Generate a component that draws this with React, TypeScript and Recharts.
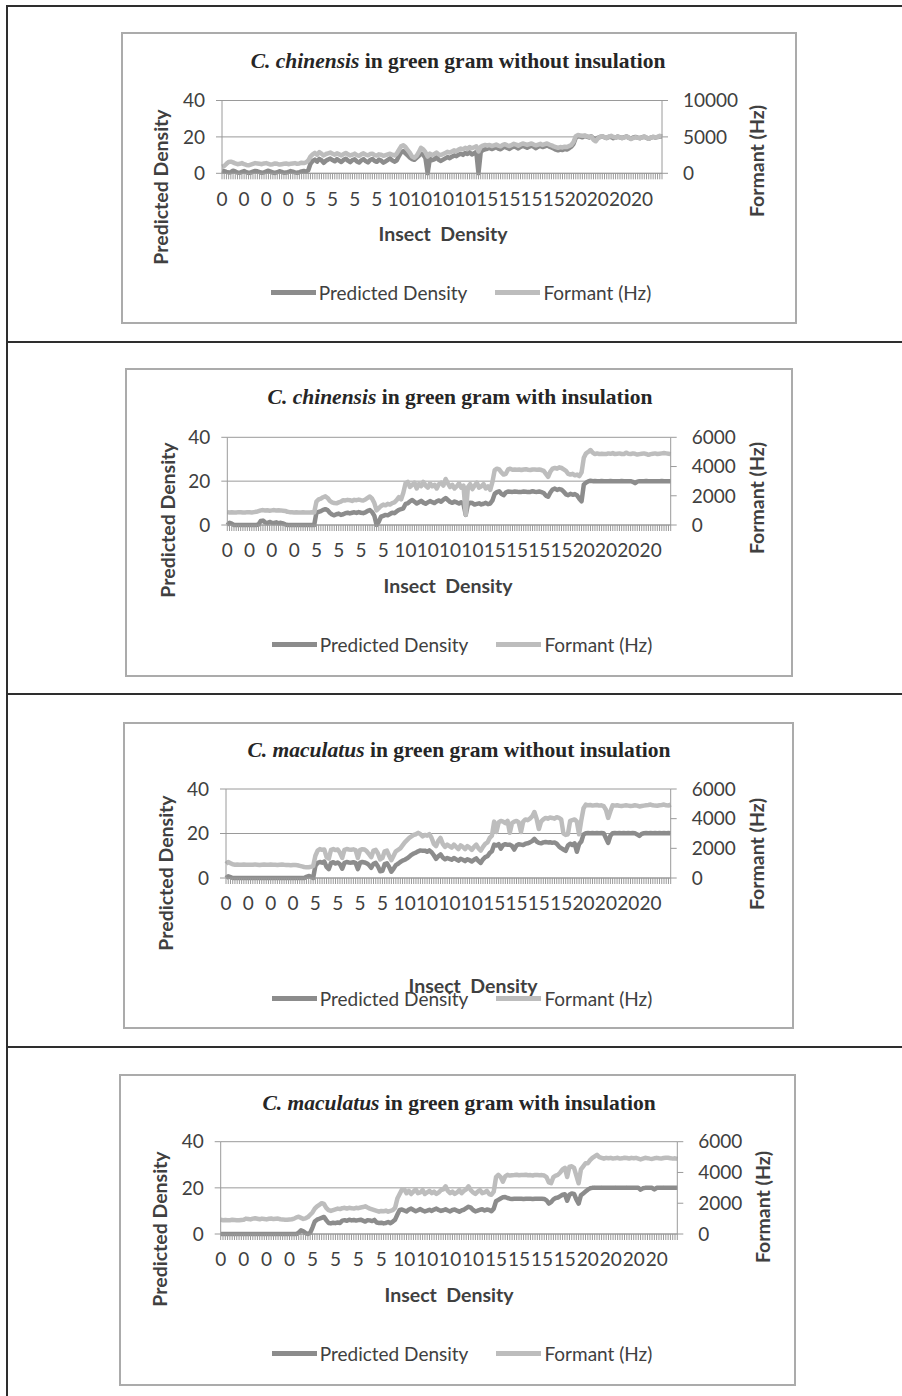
import React from 'react';
import { LineChart, Line, XAxis, YAxis, CartesianGrid, Legend } from 'recharts';

// x categories: 40 recordings for each true insect density
const DENSITY_LEVELS = [0, 5, 10, 15, 20];
const SAMPLES_PER_LEVEL = 40;
const insectDensity: number[] = DENSITY_LEVELS.flatMap((d) => Array(SAMPLES_PER_LEVEL).fill(d));

const densityTicks = [0, 20, 40];
const formantTicksWide = [0, 5000, 10000];
const formantTicks = [0, 2000, 4000, 6000];
const seriesOrder = ['Predicted Density', 'Formant (Hz)'];

// C. chinensis, without insulation
const predicted1 = [
  1.5, 1.2, 0.8, 0.5, 0.6, 1.4, 1.0, 0.4, 0.3, 0.8,
  1.2, 0.6, 0.2, 0.4, 0.9, 1.3, 1.1, 0.7, 0.3, 0.5,
  1.0, 1.4, 0.9, 0.4, 0.2, 0.6, 1.1, 0.8, 0.3, 0.4,
  0.7, 1.2, 0.9, 0.5, 0.3, 0.6, 1.0, 1.3, 0.9, 1.6,
  5.2, 6.8, 7.5, 6.4, 7.9, 7.2, 5.8, 6.9, 7.6, 8.1,
  7.3, 6.6, 7.8, 7.0, 6.2, 7.4, 8.0, 6.9, 6.1, 7.2,
  7.7, 6.5, 5.9, 7.1, 7.8, 6.7, 6.0, 7.3, 7.9, 6.8,
  6.3, 7.5, 7.0, 5.8, 6.6, 7.4, 8.2, 7.1, 6.4, 7.0,
  9.5, 11.5, 12.2, 11.0, 9.8, 8.6, 7.8, 7.4, 8.5, 9.6,
  10.8, 10.2, 8.4, 0, 8.0, 7.2, 7.6, 8.8, 7.4, 6.8,
  7.5, 8.2, 8.9, 8.3, 9.1, 9.8, 9.4, 10.2, 10.8, 10.1,
  11.2, 10.6, 11.5, 10.4, 11.0, 11.8, 0, 11.6, 12.8, 13.2,
  13.5, 14.0, 13.3, 13.8, 14.4, 13.6, 13.2, 14.1, 14.6, 13.9,
  13.4, 14.2, 14.8, 14.3, 13.7, 14.5, 15.1, 14.6, 14.0, 14.7,
  15.2, 14.5, 13.8, 14.6, 15.0, 14.4, 14.8, 15.3, 14.7, 14.2,
  13.6, 13.0, 12.6, 13.2, 12.8, 13.4, 13.1, 13.8, 14.6, 16.2,
  19.6, 20.4, 20.2, 19.8, 20.5, 20.1, 19.7, 20.3, 19.2, 18.8,
  19.5, 20.0, 20.3, 19.8, 19.4, 20.1, 19.9, 19.3, 19.6, 20.2,
  19.8, 19.4, 19.9, 20.2, 19.5, 19.1, 19.7, 20.0, 19.6, 19.3,
  19.8, 20.1, 19.5, 19.0, 19.6, 20.0, 19.7, 19.9, 20.3, 20.1,
];
const formant1 = [
  900, 1000, 1300, 1550, 1600, 1500, 1350, 1250, 1300, 1400,
  1250, 1150, 1100, 1200, 1300, 1400, 1350, 1300, 1250, 1350,
  1400, 1300, 1200, 1250, 1350, 1300, 1200, 1250, 1300, 1350,
  1250, 1300, 1350, 1400, 1300, 1350, 1450, 1400, 1500, 1750,
  2300, 2600, 2800, 2550, 2900, 2700, 2450, 2650, 2750, 2850,
  2700, 2550, 2750, 2600, 2450, 2650, 2800, 2600, 2450, 2550,
  2700, 2500, 2400, 2600, 2750, 2550, 2450, 2650, 2700, 2500,
  2450, 2600, 2550, 2400, 2500, 2600, 2700, 2550, 2450, 2700,
  3200, 3700, 3850, 3600, 3200, 2800, 2300, 2150, 2400, 2900,
  3500, 3300, 2900, 2300, 2700, 2500, 2650, 2850, 2600, 2500,
  2650, 2800, 2950, 2850, 3000, 3150, 3050, 3250, 3400, 3300,
  3500, 3350, 3600, 3450, 3550, 3700, 3000, 3650, 3800, 3900,
  3800, 3900, 3750, 3850, 3950, 3800, 3700, 3900, 4000, 3850,
  3750, 3900, 4050, 3950, 3800, 3950, 4100, 4000, 3900, 4000,
  4100, 3950, 3850, 3950, 4050, 3900, 4000, 4100, 3950, 3850,
  3700, 3600, 3500, 3600, 3550, 3650, 3600, 3750, 3900, 4300,
  5100, 5250, 5200, 5150, 5200, 5100, 5000, 5050, 4600, 4400,
  4800, 5000, 5100, 4950, 4850, 5050, 5150, 5000, 4900, 5050,
  4950, 4850, 4950, 5050, 4900, 4700, 4850, 4950, 4900, 4800,
  4950, 5050, 4900, 4750, 4900, 5000, 4950, 5000, 5150, 5050,
];

// C. chinensis, with insulation
const predicted2 = [
  0, 1.0, 0.6, 0, 0, 0, 0, 0, 0, 0,
  0, 0, 0, 0, 0.2, 1.8, 2.0, 1.2, 0.8, 1.4,
  1.0, 0.9, 1.2, 0.8, 1.0, 0.7, 0.3, 0, 0, 0,
  0, 0, 0, 0, 0, 0, 0, 0, 0, 0,
  5.6, 6.0, 6.3, 6.9, 7.2, 6.8, 5.6, 4.8, 4.4, 4.9,
  5.2, 4.6, 4.9, 5.4, 5.6, 5.3, 5.6, 5.8, 5.5, 5.9,
  5.6, 5.4, 5.8, 6.4, 6.8, 5.9, 4.2, 0, 1.5, 3.8,
  4.2, 4.6, 4.4, 5.0, 5.6, 5.4, 6.2, 6.9, 7.2, 7.6,
  9.6, 9.9, 10.8, 11.4, 10.6, 9.8, 10.4, 11.0, 10.2, 9.7,
  10.3, 10.9, 10.4, 10.0, 10.8, 11.2, 10.6, 11.6, 12.3, 11.4,
  10.5, 10.1, 10.7, 10.3, 9.8, 10.4, 9.6, 4.6, 9.4, 10.2,
  10.0, 9.3, 9.6, 9.9, 9.4, 9.7, 10.1, 9.5, 9.8, 11.2,
  14.2, 15.0, 15.4, 14.2, 13.6, 14.8, 15.3, 15.2, 15.1, 15.3,
  15.2, 15.0, 15.1, 15.3, 15.2, 15.0, 15.1, 15.4, 15.2, 15.1,
  15.3, 15.0, 14.6, 13.4, 12.9, 14.8, 16.2, 16.6, 16.0, 16.4,
  16.1, 15.2, 14.0, 13.6, 14.2, 13.8, 14.1, 13.5, 12.0, 10.8,
  18.4, 19.3, 19.9, 20.2, 20.0, 20.1, 20.0, 20.0, 20.1, 20.0,
  20.0, 20.0, 20.1, 20.0, 20.0, 20.0, 20.0, 20.1, 20.0, 20.0,
  20.0, 20.0, 19.7, 19.1, 19.8, 20.0, 20.0, 20.0, 20.1, 20.0,
  20.0, 20.0, 20.0, 20.0, 20.0, 20.1, 20.0, 20.0, 20.0, 20.0,
];
const formant2 = [
  880, 860, 870, 850, 860, 880, 870, 850, 860, 880,
  870, 860, 880, 900, 950, 1000, 1020, 990, 1010, 980,
  1000, 1020, 990, 1010, 1000, 980, 960, 900, 880, 870,
  860, 870, 850, 860, 870, 860, 850, 860, 870, 860,
  1600, 1750, 1800, 1900, 1960, 1850, 1650, 1550, 1500, 1480,
  1550, 1600, 1700, 1680, 1720, 1700, 1650, 1720, 1700, 1740,
  1700, 1680, 1750, 1850, 1950, 1800, 1500, 1000, 1150, 1300,
  1400, 1350, 1450, 1400, 1500, 1550, 1700, 1900, 1750, 2200,
  2850, 2950, 2600, 2750, 2900, 2500, 2800, 2650, 2950, 2700,
  2550, 2850, 2650, 2750, 2500, 2800, 2900, 2700, 3150, 2850,
  2600, 2750, 2500, 2650, 2850, 2550, 2700, 700, 2600, 2800,
  2450, 2700, 2900, 2550, 2650, 2800, 2500, 2650, 2400, 2950,
  3750, 3850, 3800, 3600, 3450, 3500, 3800, 3850, 3780, 3800,
  3780, 3800, 3760, 3800, 3820, 3780, 3760, 3800, 3790, 3780,
  3800, 3760, 3700, 3500, 3300, 3650, 3850, 3900, 3850, 3950,
  3900, 3800, 3700, 3500, 3450, 3500, 3400, 3450, 3350, 3600,
  4600, 4900, 5000, 5130, 4950, 4850, 4900, 4850, 4880, 4860,
  4850, 4900, 4870, 4920, 4850, 4880, 4900, 4860, 4850, 4950,
  4880, 4850, 4900, 4870, 4820, 4850, 4880, 4900, 4860, 4800,
  4850, 4880, 4900, 4860, 4880, 4900, 4920, 4900, 4880, 4850,
];

// C. maculatus, without insulation
const predicted3 = [
  0, 0.8, 0.4, 0, 0, 0, 0, 0, 0, 0,
  0, 0, 0, 0, 0, 0, 0, 0, 0, 0,
  0, 0, 0, 0, 0, 0, 0, 0, 0, 0,
  0, 0, 0, 0, 0, 0, 0.5, 0.9, 0.6, 0,
  5.5, 6.8, 7.2, 6.9, 7.4, 5.0, 4.0, 6.8, 7.1, 6.5,
  7.0, 6.2, 4.2, 6.8, 7.2, 7.0, 6.9, 7.1, 6.8, 4.0,
  6.9, 7.2, 7.0, 6.6, 5.8, 4.6, 6.4, 6.8, 5.2, 3.0,
  3.2, 6.2, 6.6, 5.0, 2.8, 4.2, 5.8, 6.4, 7.2, 7.8,
  8.2, 8.8, 9.6, 10.4, 11.0, 11.4, 12.0, 12.4, 12.2, 12.3,
  11.8, 12.4, 11.6, 10.2, 8.6, 9.8, 10.6, 9.2, 8.4, 9.0,
  8.6, 8.2, 9.0, 8.4, 7.8, 8.6, 8.2, 7.6, 8.4, 8.0,
  7.4, 8.2, 8.8, 7.6, 6.8, 8.4, 9.4, 9.8, 11.2, 12.0,
  15.0, 14.6, 15.2, 13.2, 14.8, 15.2, 14.9, 15.0, 14.4, 12.8,
  14.6, 15.2, 15.0, 14.8, 15.4, 15.6, 16.0, 16.6, 17.6, 16.4,
  15.8, 15.6, 16.0, 16.2, 16.0, 16.1, 15.8, 16.0, 15.4, 14.2,
  13.4, 12.8, 12.2, 14.6, 15.4, 14.8, 15.6, 11.8, 15.2, 16.4,
  19.6, 20.1, 20.2, 20.1, 20.2, 20.1, 20.2, 20.1, 20.2, 20.1,
  18.0, 15.8, 19.0, 20.1, 20.2, 20.1, 20.2, 20.1, 20.2, 20.1,
  20.2, 20.1, 20.2, 20.1, 19.6, 18.9, 19.8, 20.1, 20.2, 20.1,
  20.2, 20.1, 20.2, 20.1, 20.2, 20.1, 20.2, 20.1, 20.2, 20.1,
];
const formant3 = [
  950, 1080, 1000, 920, 900, 910, 900, 890, 910, 900,
  900, 890, 900, 910, 900, 880, 900, 910, 890, 900,
  910, 900, 890, 880, 900, 910, 890, 880, 870, 860,
  880, 870, 860, 820, 780, 740, 720, 730, 760, 800,
  1500, 1850, 1950, 1900, 1920, 1400, 1300, 1900, 1950, 1880,
  1920, 1700, 1350, 1900, 1950, 1920, 1900, 1930, 1880, 1350,
  1900, 1940, 1920, 1800, 1600, 1400, 1850, 1900, 1650, 1250,
  1350, 1800, 1850, 1500, 1200, 1500, 1800, 1900, 2000, 2200,
  2400, 2550, 2700, 2800, 2900, 2950, 3050, 2950, 2800, 2900,
  2850, 2950, 2700, 2300, 2150, 2500, 2700, 2300, 2100, 2250,
  2150, 2050, 2250, 2100, 1950, 2200, 2100, 1950, 2150, 2050,
  1900, 2100, 2250, 2000, 1850, 2100, 2300, 2400, 2700, 2850,
  3800, 3100, 3750, 3850, 3800, 3700, 3850, 3050, 3700, 3800,
  3850, 3750, 3100, 3800, 3950, 3900, 4000, 4150, 4450, 4000,
  3300, 3800, 3950, 4050, 4000, 4080, 4050, 4000, 4100, 4050,
  3950, 3000, 2900, 2950, 3850, 3900, 3950, 3800, 2950, 3900,
  4700, 4950, 4900, 4920, 4880, 4900, 4920, 4880, 4900, 4850,
  4600, 4050, 4500, 4900, 4880, 4900, 4870, 4850, 4880, 4900,
  4880, 4850, 4870, 4900, 4880, 4820, 4850, 4880, 4900, 4920,
  4950, 4900, 4880, 4870, 4900, 4920, 4950, 4900, 4880, 4950,
];

// C. maculatus, with insulation
const predicted4 = [
  0, 0, 0, 0, 0, 0, 0, 0, 0, 0,
  0, 0, 0, 0, 0, 0, 0, 0, 0, 0,
  0, 0, 0, 0, 0, 0, 0, 0, 0, 0,
  0, 0, 0, 0, 0.6, 1.6, 1.2, 0.4, 0, 0.5,
  2.8, 5.4, 6.2, 6.6, 7.0, 7.4, 6.0, 4.8, 4.6, 4.9,
  4.7, 5.0, 4.8, 5.8, 6.0, 5.7, 6.2, 5.9, 6.1, 5.8,
  6.0, 6.2, 5.8, 5.4, 6.0, 5.9, 5.6, 6.1, 5.0, 4.8,
  4.9, 4.6, 4.8, 5.2, 4.7, 5.4, 6.2, 8.4, 10.4, 10.6,
  10.2, 9.8, 10.6, 11.0, 10.4, 9.9, 10.3, 10.8, 10.2, 9.8,
  10.1, 10.5, 10.0, 10.6, 11.0, 10.4, 10.0, 10.3, 10.7, 10.2,
  9.8, 10.4, 10.6, 10.1, 9.7, 10.2, 10.5, 11.2, 11.8, 11.4,
  10.4, 9.8, 10.1, 10.5, 10.7, 10.2, 10.6, 10.4, 9.9, 11.0,
  14.2, 14.8, 15.4, 15.9, 16.0, 15.6, 15.3, 15.2, 15.3, 15.3,
  15.3, 15.3, 15.2, 15.3, 15.3, 15.3, 15.2, 15.3, 15.3, 15.3,
  15.3, 15.2, 14.6, 13.2, 13.8, 15.0, 15.6, 15.8, 16.4, 17.0,
  17.2, 14.4, 17.0, 17.6, 17.4, 15.0, 13.2, 16.8, 17.6, 18.4,
  19.2, 19.8, 20.0, 20.1, 20.0, 20.0, 20.1, 20.0, 20.0, 20.0,
  20.0, 20.0, 20.1, 20.0, 20.0, 20.0, 20.0, 20.1, 20.0, 20.0,
  20.0, 20.0, 20.0, 19.2, 19.8, 20.0, 20.0, 20.0, 20.0, 19.3,
  20.0, 20.0, 20.0, 20.1, 20.0, 20.0, 20.0, 20.0, 20.0, 20.0,
];
const formant4 = [
  920, 900, 910, 890, 900, 920, 910, 900, 890, 910,
  920, 1000, 980, 950, 1000, 1020, 990, 960, 1000, 980,
  950, 990, 1010, 970, 990, 1000, 960, 950, 930, 920,
  940, 960, 1000, 1080, 1120, 1050, 980, 1020, 1100, 1250,
  1400, 1650, 1800, 1900, 2000, 1950, 1700, 1550, 1500, 1550,
  1600, 1650, 1620, 1680, 1700, 1650, 1700, 1680, 1650, 1700,
  1680, 1720, 1750, 1800, 1720, 1650, 1600, 1550, 1500, 1450,
  1500, 1480, 1520, 1450, 1500, 1550, 1700, 2300, 2600, 2900,
  2900, 2650, 2800, 2600, 2750, 2900, 2650, 2700, 2850, 2600,
  2700, 2800, 2650, 2750, 2600, 2700, 2850, 2900, 3100, 2800,
  2650, 2750, 2600, 2700, 2850, 2650, 2800, 2900, 3100, 2850,
  2700, 2600, 2750, 2850, 2650, 2700, 2800, 2600, 2550, 2750,
  3700, 3850, 3700, 3400, 3750, 3850, 3800, 3820, 3830, 3850,
  3820, 3840, 3830, 3850, 3820, 3830, 3800, 3840, 3830, 3820,
  3830, 3800, 3700, 3350, 3300, 3700, 3800, 3850, 4000, 4200,
  4300, 3700, 4380, 4400, 4300, 3800, 3300, 4200, 4400, 4600,
  4600, 4800, 4950, 5050, 5150, 5000, 4950, 4900, 4950, 4920,
  4950, 4900, 4930, 4950, 4900, 4920, 4960, 4940, 4900, 4950,
  4920, 4950, 4900, 4850, 4900, 4950, 4930, 4900, 4880, 4920,
  4950, 4920, 4900, 4940, 4960, 4950, 4930, 4900, 4920, 4880,
];

const FONT = 'Lato, "Noto Sans", sans-serif';
const SERIF = '"Liberation Serif", "Times New Roman", serif';
const AXIS = '#9a9a9a';
const TEXT = '#404040';
const DARK_LINE = '#8c8c8c';
const LIGHT_LINE = '#bdbdbd';
const TICK_SIZE = 19;

const Y_LEFT_W = 60;
const Y_RIGHT_W = 80;
const X_H = 40;

type Pt = [number, number];

interface PanelSpec {
  species: string;
  rest: string;
  box: { l: number; t: number; r: number; b: number };
  plot: { l: number; t: number; r: number; b: number };
  formantMax: number;
  formantTicks: number[];
  predicted: number[];
  formant: number[];
  title: Pt;
  leftTitle: Pt;
  rightTitle: Pt;
  xTitle: Pt;
  legend: Pt;
}

const panels: PanelSpec[] = [
  {
    species: 'C. chinensis', rest: ' in green gram without insulation',
    box: { l: 121, t: 32, r: 797, b: 324 }, plot: { l: 222, t: 100.5, r: 662, b: 173.3 },
    formantMax: 10000, formantTicks: formantTicksWide, predicted: predicted1, formant: formant1,
    title: [458, 62], leftTitle: [161, 187], rightTitle: [757, 161], xTitle: [443, 234], legend: [461, 292],
  },
  {
    species: 'C. chinensis', rest: ' in green gram with insulation',
    box: { l: 125, t: 368, r: 793, b: 677 }, plot: { l: 227.3, t: 437.3, r: 670.7, b: 525 },
    formantMax: 6000, formantTicks, predicted: predicted2, formant: formant2,
    title: [460, 398], leftTitle: [168, 520], rightTitle: [757, 498], xTitle: [448, 586], legend: [462, 644],
  },
  {
    species: 'C. maculatus', rest: ' in green gram without insulation',
    box: { l: 123, t: 722, r: 794, b: 1029 }, plot: { l: 226, t: 789, r: 670.7, b: 878 },
    formantMax: 6000, formantTicks, predicted: predicted3, formant: formant3,
    title: [459, 751], leftTitle: [166, 873], rightTitle: [757, 854], xTitle: [473, 986], legend: [462, 998],
  },
  {
    species: 'C. maculatus', rest: ' in green gram with insulation',
    box: { l: 119, t: 1074, r: 796, b: 1386 }, plot: { l: 220.7, t: 1141.7, r: 677.3, b: 1234 },
    formantMax: 6000, formantTicks, predicted: predicted4, formant: formant4,
    title: [459, 1104], leftTitle: [160, 1229], rightTitle: [763, 1207], xTitle: [449, 1295], legend: [462, 1353],
  },
];

function XTick(props: any) {
  const { x, y, payload } = props;
  const index = props.index ?? payload?.index ?? 0;
  if (index % 10 !== 0) return null;
  return (
    <text x={x} y={y} dy="0.71em" textAnchor="middle" fill={TEXT} fontSize={TICK_SIZE} fontFamily={FONT}>
      {payload.value}
    </text>
  );
}

function LegendRow(props: any) {
  const items = [...(props.payload || [])].sort(
    (a: any, b: any) => seriesOrder.indexOf(a.value) - seriesOrder.indexOf(b.value)
  );
  return (
    <div style={{ display: 'flex', justifyContent: 'center', alignItems: 'center', height: 24, fontFamily: FONT, fontSize: TICK_SIZE, color: TEXT }}>
      {items.map((it: any, i: number) => (
        <div key={it.value} style={{ display: 'flex', alignItems: 'center', marginLeft: i ? 28 : 0 }}>
          <span style={{ display: 'inline-block', width: 45, height: 5, background: it.color, marginRight: 3 }} />
          <span>{it.value}</span>
        </div>
      ))}
    </div>
  );
}

function Label({ at, children, rotate, bold, style }: { at: Pt; children: React.ReactNode; rotate?: boolean; bold?: boolean; style?: React.CSSProperties }) {
  return (
    <div
      style={{
        position: 'absolute', left: at[0], top: at[1], lineHeight: 1, whiteSpace: 'pre',
        transform: `translate(-50%, -50%)${rotate ? ' rotate(-90deg)' : ''}`,
        fontFamily: FONT, fontSize: 19.5, fontWeight: bold ? 700 : 400, color: TEXT, ...style,
      }}
    >
      {children}
    </div>
  );
}

function Panel({ spec }: { spec: PanelSpec }) {
  const { box, plot } = spec;
  const width = box.r - box.l;
  const height = box.b - box.t;
  const rows = insectDensity.map((d, i) => ({ density: d, predicted: spec.predicted[i], formant: spec.formant[i] }));
  const margin = {
    top: plot.t - box.t,
    left: plot.l - box.l - Y_LEFT_W,
    right: box.r - plot.r - Y_RIGHT_W,
    bottom: box.b - plot.b - X_H,
  };

  return (
    <>
      <div style={{ position: 'absolute', left: box.l, top: box.t, width, height, border: '2px solid #ababab', boxSizing: 'border-box' }} />
      <div style={{ position: 'absolute', left: box.l, top: box.t }}>
        <LineChart width={width} height={height} data={rows} margin={margin}>
          <CartesianGrid yAxisId="left" vertical={false} stroke={AXIS} />
          <XAxis
            dataKey="density"
            interval={0}
            height={X_H}
            tickSize={6}
            tickMargin={13}
            axisLine={{ stroke: AXIS }}
            tickLine={{ stroke: AXIS }}
            tick={<XTick />}
          />
          <YAxis
            yAxisId="left"
            orientation="left"
            width={Y_LEFT_W}
            domain={[0, 40]}
            ticks={densityTicks}
            interval={0}
            tickSize={6}
            tickMargin={11}
            axisLine={{ stroke: AXIS }}
            tickLine={{ stroke: AXIS }}
            tick={{ fill: TEXT, fontSize: TICK_SIZE, fontFamily: FONT }}
          />
          <YAxis
            yAxisId="right"
            orientation="right"
            width={Y_RIGHT_W}
            domain={[0, spec.formantMax]}
            ticks={spec.formantTicks}
            interval={0}
            tickSize={6}
            tickMargin={15}
            axisLine={{ stroke: AXIS }}
            tickLine={{ stroke: AXIS }}
            tick={{ fill: TEXT, fontSize: TICK_SIZE, fontFamily: FONT }}
          />
          <Line
            yAxisId="left"
            type="linear"
            dataKey="predicted"
            name="Predicted Density"
            stroke={DARK_LINE}
            strokeWidth={4.5}
            strokeLinejoin="round"
            dot={false}
            isAnimationActive={false}
          />
          <Line
            yAxisId="right"
            type="linear"
            dataKey="formant"
            name="Formant (Hz)"
            stroke={LIGHT_LINE}
            strokeWidth={4.5}
            strokeLinejoin="round"
            dot={false}
            isAnimationActive={false}
          />
          <Legend
            layout="horizontal"
            align="center"
            verticalAlign="middle"
            wrapperStyle={{ top: spec.legend[1] - box.t - 12, left: spec.legend[0] - box.l - width / 2, width, height: 24 }}
            content={<LegendRow />}
          />
        </LineChart>
      </div>
      <Label at={spec.title} style={{ fontFamily: SERIF, fontSize: 21.5, fontWeight: 700, color: '#262626' }}>
        <i>{spec.species}</i>
        {spec.rest}
      </Label>
      <Label at={spec.leftTitle} rotate bold>Predicted Density</Label>
      <Label at={spec.rightTitle} rotate bold>Formant (Hz)</Label>
      <Label at={spec.xTitle} bold>{'Insect  Density'}</Label>
    </>
  );
}

const RULE = '#2e2e2e';

export default function App() {
  return (
    <div style={{ position: 'absolute', left: 0, top: 0, width: 902, height: 1396, background: '#fff', overflow: 'hidden' }}>
      <div style={{ position: 'absolute', left: 6, top: 5, width: 2, height: 1391, background: RULE }} />
      {[5, 341, 693, 1046].map((y) => (
        <div key={y} style={{ position: 'absolute', left: 6, top: y, width: 896, height: 2, background: RULE }} />
      ))}
      {panels.map((p, i) => (
        <Panel key={i} spec={p} />
      ))}
    </div>
  );
}
